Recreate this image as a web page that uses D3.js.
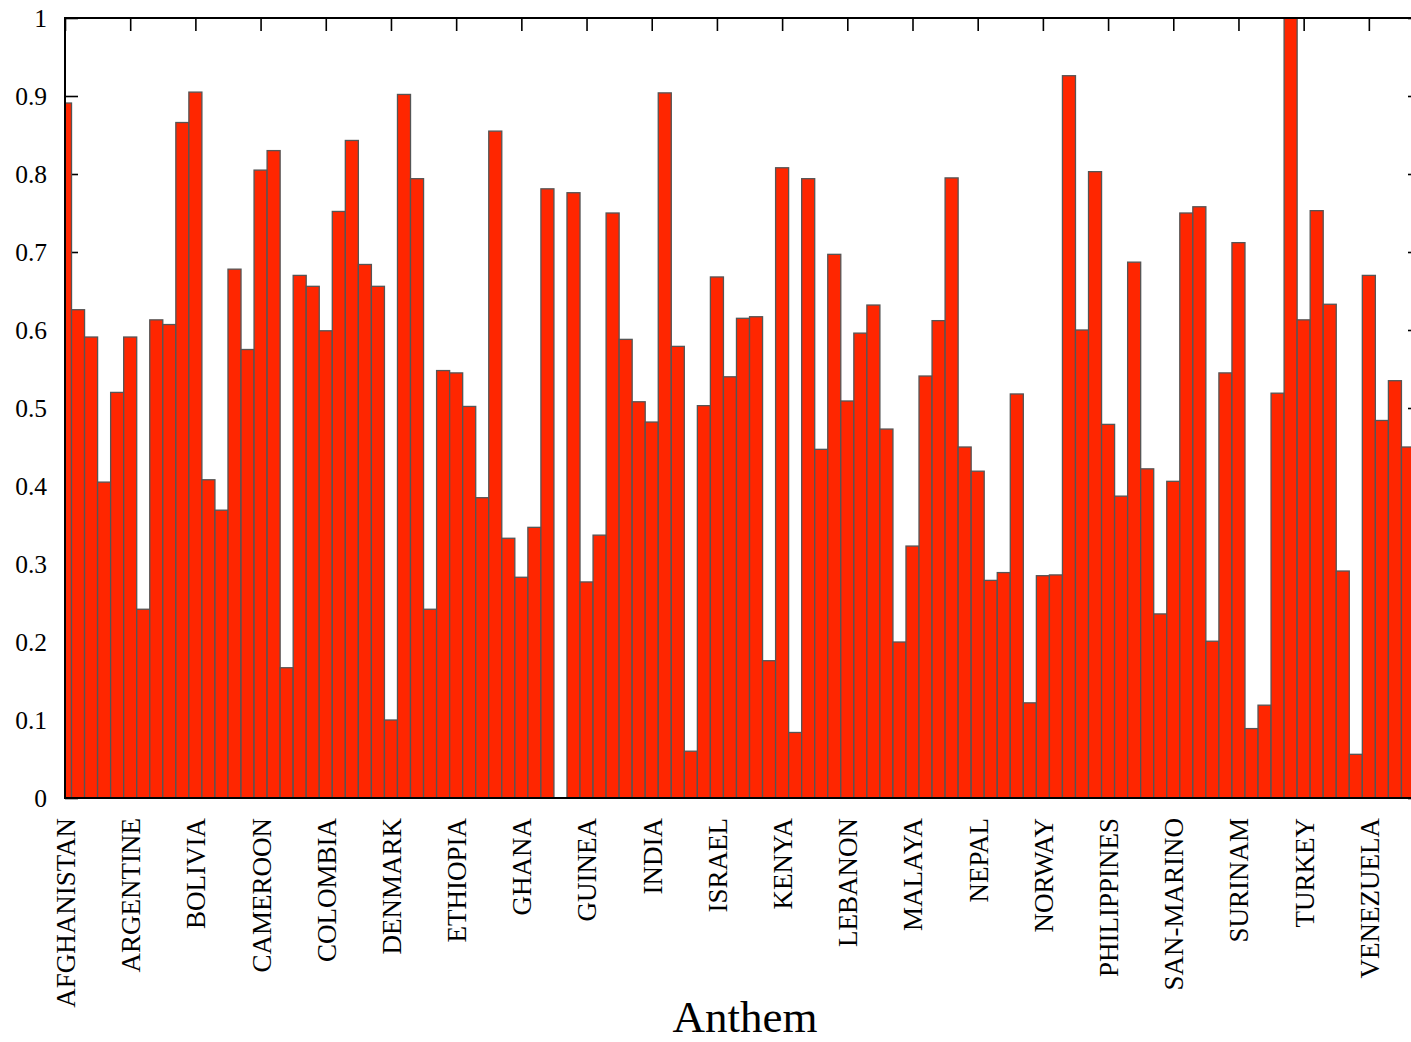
<!DOCTYPE html>
<html>
<head>
<meta charset="utf-8">
<script src="https://cdn.jsdelivr.net/npm/d3@7"></script>
<style>
  html, body { margin: 0; padding: 0; background: #fff; }
  svg { display: block; font-family: "Liberation Serif", "Times New Roman", serif; }
</style>
</head>
<body>
<svg id="chart" width="1411" height="1042"></svg>
<script>
// Every fifth anthem carries a name on the axis
const labelNames = [
  "AFGHANISTAN", "ARGENTINE", "BOLIVIA", "CAMEROON", "COLOMBIA", "DENMARK",
  "ETHIOPIA", "GHANA", "GUINEA", "INDIA", "ISRAEL", "KENYA", "LEBANON",
  "MALAYA", "NEPAL", "NORWAY", "PHILIPPINES", "SAN-MARINO", "SURINAM",
  "TURKEY", "VENEZUELA"
];
const labelEvery = 5;

// Score of each anthem, in axis order
const scores = [
  0.891, 0.626, 0.591, 0.405, 0.520, 0.591, 0.242, 0.613, 0.607, 0.866,
  0.905, 0.408, 0.369, 0.678, 0.575, 0.805, 0.830, 0.167, 0.670, 0.656,
  0.599, 0.752, 0.843, 0.684, 0.656, 0.100, 0.902, 0.794, 0.242, 0.548,
  0.545, 0.502, 0.385, 0.855, 0.333, 0.283, 0.347, 0.781, 0.000, 0.776,
  0.277, 0.337, 0.750, 0.588, 0.508, 0.482, 0.904, 0.579, 0.060, 0.503,
  0.668, 0.540, 0.615, 0.617, 0.176, 0.808, 0.084, 0.794, 0.447, 0.697,
  0.509, 0.596, 0.632, 0.473, 0.200, 0.323, 0.541, 0.612, 0.795, 0.450,
  0.419, 0.279, 0.289, 0.518, 0.122, 0.285, 0.286, 0.926, 0.600, 0.803,
  0.479, 0.387, 0.687, 0.422, 0.236, 0.406, 0.750, 0.758, 0.201, 0.545,
  0.712, 0.089, 0.119, 0.519, 1.000, 0.613, 0.753, 0.633, 0.291, 0.056,
  0.670, 0.484, 0.535, 0.450
];

const yTickValues = [0, 0.1, 0.2, 0.3, 0.4, 0.5, 0.6, 0.7, 0.8, 0.9, 1];
const xDomainMax = 104;   // index sitting on the right border

const plot = { left: 65, right: 1421, top: 18, bottom: 798 };

const svg = d3.select("#chart");

const x = d3.scaleLinear().domain([0, xDomainMax]).range([plot.left, plot.right]);
const y = d3.scaleLinear().domain([0, 1]).range([plot.bottom, plot.top]);
const step = x(1) - x(0);

const labelPositions = labelNames.map((_, i) => i * labelEvery);

svg.append("defs").append("clipPath").attr("id", "plot-clip")
  .append("rect")
  .attr("x", plot.left).attr("y", plot.top - 2)
  .attr("width", plot.right - plot.left).attr("height", plot.bottom - plot.top + 2);

// Inward ticks sit underneath the bars
function styleAxis(g) {
  g.select(".domain").remove();
  g.selectAll(".tick line").attr("stroke", "#000").attr("stroke-width", 1.6);
}

svg.append("g")
  .attr("transform", `translate(${plot.left},0)`)
  .call(d3.axisLeft(y).tickValues(yTickValues).tickSize(-13).tickSizeOuter(0)
        .tickPadding(18).tickFormat(d => String(d)))
  .call(styleAxis)
  .call(g => g.selectAll("text")
    .attr("font-size", 25.5).attr("fill", "#000")
    .attr("font-family", "Liberation Serif, Times New Roman, serif"));

svg.append("g")
  .attr("transform", `translate(${plot.right},0)`)
  .call(d3.axisRight(y).tickValues(yTickValues).tickSize(-13).tickSizeOuter(0).tickFormat(""))
  .call(styleAxis);

svg.append("g")
  .attr("transform", `translate(0,${plot.top})`)
  .call(d3.axisTop(x).tickValues(labelPositions).tickSize(-13).tickSizeOuter(0).tickFormat(""))
  .call(styleAxis);

svg.append("g")
  .attr("transform", `translate(0,${plot.bottom})`)
  .call(d3.axisBottom(x).tickValues(labelPositions).tickSize(-13).tickSizeOuter(0)
        .tickFormat((d, i) => labelNames[i]))
  .call(styleAxis)
  .call(g => g.selectAll("text")
    .attr("transform", "rotate(-90)")
    .attr("x", -20).attr("y", 0).attr("dy", "0.35em")
    .attr("text-anchor", "end")
    .attr("font-size", 27).attr("fill", "#000")
    .attr("font-family", "Liberation Serif, Times New Roman, serif"));

// Bars
svg.append("g")
  .attr("clip-path", "url(#plot-clip)")
  .selectAll("rect")
  .data(scores)
  .join("rect")
  .attr("x", (d, i) => x(i) - step / 2)
  .attr("width", step)
  .attr("y", d => y(d))
  .attr("height", d => y(0) - y(d))
  .attr("fill", "#ff2600")
  .attr("stroke", "#555555")
  .attr("stroke-width", 1.3);

// Plot border on top
svg.append("rect")
  .attr("x", plot.left).attr("y", plot.top)
  .attr("width", plot.right - plot.left).attr("height", plot.bottom - plot.top)
  .attr("fill", "none").attr("stroke", "#000").attr("stroke-width", 2);

// Axis title
svg.append("text")
  .attr("x", (plot.left + plot.right) / 2 + 2)
  .attr("y", 1032)
  .attr("text-anchor", "middle")
  .attr("font-size", 45)
  .attr("fill", "#000")
  .text("Anthem");
</script>
</body>
</html>
